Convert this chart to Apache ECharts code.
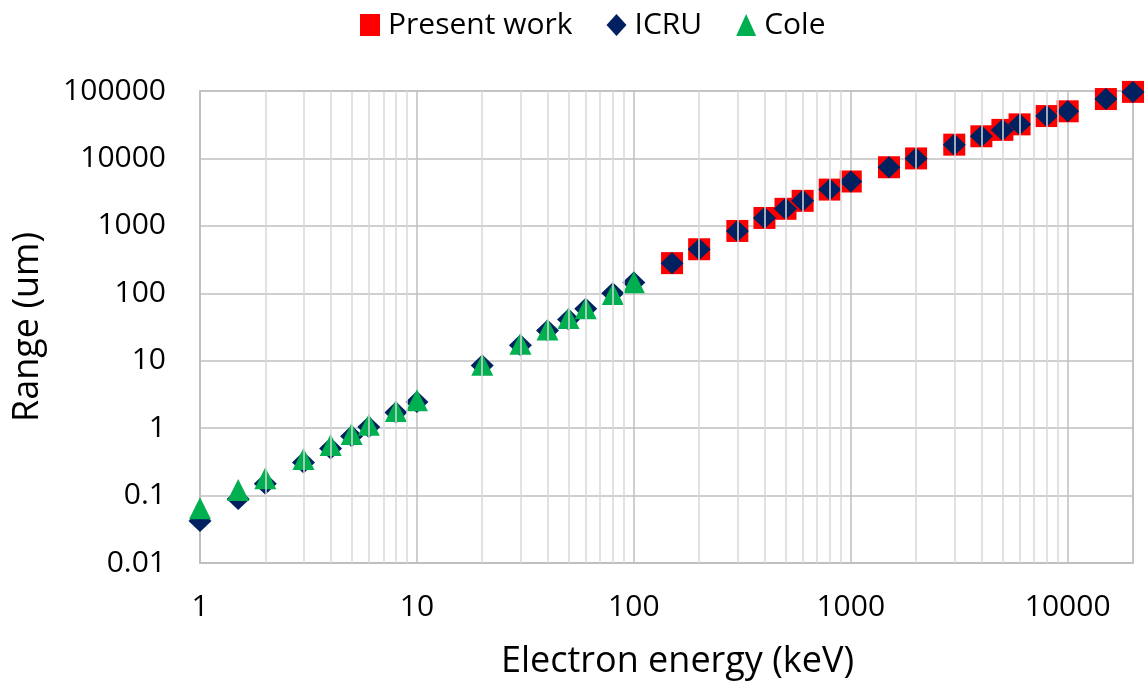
<!DOCTYPE html>
<html>
<head>
<meta charset="utf-8">
<script src="https://cdn.jsdelivr.net/npm/echarts@6/dist/echarts.min.js"></script>
<style>
  html, body { margin: 0; padding: 0; background: #fff; }
  #chart { width: 1146px; height: 686px; }
</style>
</head>
<body>
<div id="chart"></div>
<script>
// Electron energies (keV)
const lowEnergies = [1, 1.5, 2, 3, 4, 5, 6, 8, 10, 20, 30, 40, 50, 60, 80, 100];
const highEnergies = [150, 200, 300, 400, 500, 600, 800, 1000, 1500, 2000, 3000, 4000, 5000, 6000, 8000, 10000, 15000, 20000];

// Ranges (um)
const presentWork = [280, 450, 840, 1310, 1790, 2350, 3450, 4550, 7400, 10000, 16000, 21300, 26500, 32000, 42500, 50000, 76000, 97000];
const icruLow = [0.042, 0.089, 0.15, 0.31, 0.5, 0.76, 1.04, 1.7, 2.45, 8.5, 17, 28, 41, 59, 100, 145];
const icruHigh = [280, 450, 840, 1310, 1790, 2350, 3450, 4550, 7400, 10000, 16000, 21300, 26500, 32000, 42500, 50000, 76000, 97000];
const cole = [0.065, 0.121, 0.18, 0.35, 0.56, 0.82, 1.12, 1.8, 2.6, 8.7, 17.8, 29, 43, 60, 98, 146];

// Vertical minor grid positions (2..9 within each decade)
const minorX = [2, 3, 4, 5, 6, 7, 8, 9, 20, 30, 40, 50, 60, 70, 80, 90,
  200, 300, 400, 500, 600, 700, 800, 900, 2000, 3000, 4000, 5000, 6000, 7000, 8000, 9000];

const seriesNames = ['Present work', 'ICRU', 'Cole'];
const FONT = 'Open Sans';

const zip = (xs, ys) => xs.map((x, i) => [x, ys[i]]);
const fmt = v => String(+(+v).toPrecision(6));

const chart = echarts.init(document.getElementById('chart'), null, { renderer: 'canvas' });

chart.setOption({
  animation: false,
  backgroundColor: '#ffffff',
  textStyle: { fontFamily: FONT },
  legend: {
    data: seriesNames,
    left: 355,
    top: 5,
    itemWidth: 20,
    itemHeight: 22,
    itemGap: 34,
    textStyle: { fontFamily: FONT, fontSize: 30, color: '#000', padding: [0, 0, 0, 3] }
  },
  grid: {
    left: 200, right: 13, top: 91, bottom: 123,
    outerBoundsMode: 'none',
    containLabel: false,
    show: true, borderColor: '#bfbfbf', borderWidth: 1.5
  },
  xAxis: {
    type: 'log',
    logBase: 10,
    min: 1,
    max: 20000,
    name: 'Electron energy (keV)',
    nameLocation: 'middle',
    nameGap: 81,
    nameTextStyle: { fontFamily: FONT, fontSize: 36, color: '#000', padding: [0, 0, 0, 22] },
    axisLine: { show: true, lineStyle: { color: '#bfbfbf', width: 1.5 } },
    axisTick: { show: false },
    axisLabel: { fontFamily: FONT, fontSize: 30, color: '#000', margin: 29, showMaxLabel: false, formatter: fmt },
    splitLine: { show: true, lineStyle: { color: '#bfbfbf', width: 1.5 } }
  },
  yAxis: {
    type: 'log',
    logBase: 10,
    min: 0.01,
    max: 100000,
    name: 'Range (um)',
    nameLocation: 'middle',
    nameGap: 154,
    nameTextStyle: { fontFamily: FONT, fontSize: 36, color: '#000' },
    axisLine: { show: true, lineStyle: { color: '#bfbfbf', width: 1.5 } },
    axisTick: { show: false },
    axisLabel: { fontFamily: FONT, fontSize: 30, color: '#000', margin: 34, formatter: fmt },
    splitLine: { show: true, lineStyle: { color: '#bfbfbf', width: 1.5 } }
  },
  series: [
    {
      // minor vertical grid lines
      name: 'grid-minor',
      type: 'scatter',
      data: [],
      z: 1,
      silent: true,
      markLine: {
        silent: true,
        symbol: 'none',
        label: { show: false },
        animation: false,
        lineStyle: { color: '#d9d9d9', width: 1.5, type: 'solid' },
        data: minorX.map(v => ({ xAxis: v }))
      }
    },
    {
      name: 'Present work',
      type: 'scatter',
      symbol: 'rect',
      symbolSize: 22,
      itemStyle: { color: '#ff0000', opacity: 1 },
      data: zip(highEnergies, presentWork)
    },
    {
      name: 'ICRU',
      type: 'scatter',
      symbol: 'diamond',
      symbolSize: [23, 22],
      itemStyle: { color: '#002060', opacity: 1 },
      data: zip(lowEnergies, icruLow).concat(zip(highEnergies, icruHigh))
    },
    {
      name: 'Cole',
      type: 'scatter',
      symbol: 'triangle',
      symbolSize: [22, 22],
      itemStyle: { color: '#00b050', opacity: 1 },
      data: zip(lowEnergies, cole)
    }
  ]
});
</script>
</body>
</html>
